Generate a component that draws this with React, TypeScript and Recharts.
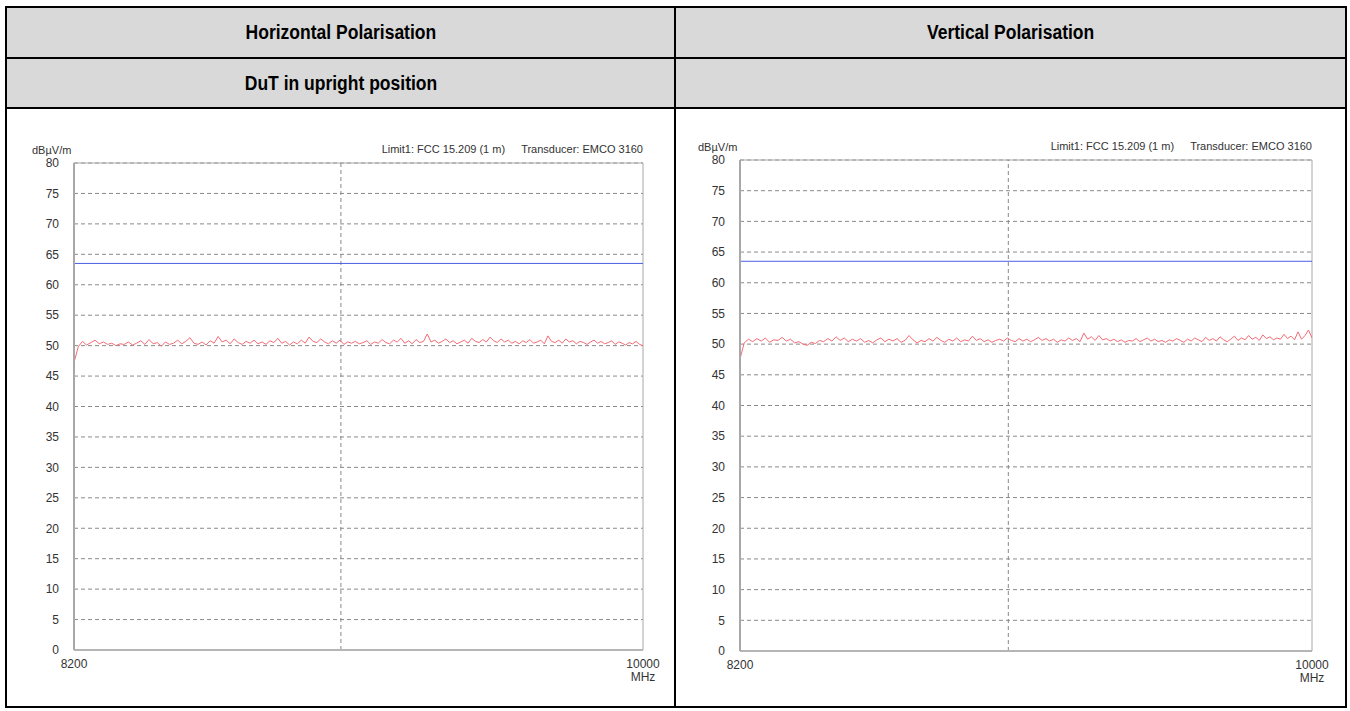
import React from 'react';
import {
  LineChart,
  Line,
  XAxis,
  YAxis,
  CartesianGrid,
  ReferenceLine,
  ReferenceArea,
} from 'recharts';

const FONT = '"Liberation Sans", Arial, sans-serif';

// sweep settings
const startMHz = 8200;
const stopMHz = 10000;
const centerMHz = 9000;
const xTicks = [8200, 10000];
const yTicks = [0, 5, 10, 15, 20, 25, 30, 35, 40, 45, 50, 55, 60, 65, 70, 75, 80];
const limitLevel = 63.5;

const columnTitles = ['Horizontal Polarisation', 'Vertical Polarisation'];
const positionTitles = ['DuT in upright position', ''];
const limitText = 'Limit1: FCC 15.209 (1 m)';
const transducerText = 'Transducer: EMCO 3160';

// dBµV/m readings, horizontal polarisation
const horizontalLevels = [
  47.2, 49.8, 50.7, 50.1, 50.5, 50.9, 50.3, 50.6, 50.2, 50.4,
  50.0, 50.3, 50.2, 50.6, 50.1, 50.4, 50.8, 50.2, 51.0, 50.3,
  50.5, 49.9, 50.6, 50.2, 50.4, 50.9, 50.3, 50.7, 51.3, 50.4,
  50.2, 50.6, 50.1, 50.8, 50.4, 51.5, 50.6, 50.9, 50.3, 51.1,
  50.5, 50.2, 50.7, 50.4, 50.9, 50.3, 50.6, 50.2, 50.8, 50.5,
  51.2, 50.4, 50.7, 50.1, 50.6, 50.3, 50.9, 50.4, 51.4, 50.7,
  50.5, 51.1, 50.6, 50.3, 50.8, 50.4, 50.9, 50.2, 50.6, 50.4,
  50.7, 50.3, 50.5, 50.8, 50.2, 50.6, 50.4, 51.0, 50.5, 50.3,
  50.9, 50.6, 51.2, 50.4, 50.8, 50.3, 51.0, 50.5, 50.7, 51.9,
  50.6, 50.9, 50.4, 50.7, 51.1, 50.5, 50.8, 50.3, 50.6, 50.9,
  50.4, 51.2, 50.7, 50.5, 51.0, 50.6, 51.4, 50.8, 50.5, 51.1,
  50.6, 50.9, 50.4, 50.7, 50.3, 50.8, 50.5, 51.0, 50.4, 50.6,
  50.9, 50.3, 51.6, 50.7, 50.5, 50.9, 50.4, 51.1, 50.6, 50.8,
  50.3, 50.7, 50.5, 50.2, 50.6, 50.9, 50.4, 50.7, 50.3, 50.5,
  50.8, 50.2, 50.6, 50.4, 50.1, 50.5, 50.3, 50.7, 50.2, 50.0,
];

// dBµV/m readings, vertical polarisation
const verticalLevels = [
  47.6, 50.2, 50.8, 50.4, 50.9, 50.5, 51.0, 50.3, 50.7, 50.6,
  51.1, 50.5, 50.8, 50.2, 50.4, 50.0, 49.8, 50.3, 50.1, 50.6,
  50.4, 50.9, 50.5, 51.2, 50.6, 51.0, 50.4, 50.8, 50.5, 50.9,
  50.3, 50.6, 50.2, 50.7, 51.0, 50.4, 50.8, 50.5, 50.9, 50.3,
  50.6, 51.4, 50.7, 50.2, 50.6, 50.4, 50.9, 50.5, 51.1, 50.6,
  50.3, 50.8, 50.5, 51.0, 50.4, 50.7, 50.5, 51.3, 50.6, 50.9,
  50.4, 50.7, 50.3, 50.6, 50.8, 50.5, 51.0, 50.6, 50.4, 50.9,
  50.5, 50.8, 50.4, 50.7, 51.1, 50.6, 50.9, 50.5, 50.8, 50.3,
  50.7, 50.5, 51.0, 50.6, 50.9, 50.4, 51.8, 50.8, 51.2, 50.6,
  51.4, 50.7, 50.9, 50.5, 50.8, 50.4, 50.7, 50.3, 50.6, 50.5,
  50.9, 50.4, 50.7, 51.0, 50.5, 50.8, 50.4, 50.6, 50.3, 50.7,
  50.5, 50.9, 50.6, 50.3, 50.8, 50.5, 51.0, 50.7, 50.4, 51.1,
  50.6, 50.9, 50.5, 51.2, 50.7, 50.4, 50.8, 51.3, 50.6, 51.0,
  50.7, 51.4, 50.8, 51.1, 50.6, 51.5, 50.9, 51.2, 50.7, 51.0,
  50.8, 51.6, 50.9, 51.3, 50.7, 52.0, 50.8, 51.4, 52.3, 51.0,
];

// sweep points are evenly spaced between start and stop
function toSweep(levels: number[]) {
  const step = (stopMHz - startMHz) / (levels.length - 1);
  return levels.map((level, i) => ({ freq: startMHz + i * step, level }));
}

function FreqTick({ x, y, payload }: any) {
  return (
    <g>
      <text x={x} y={y + 18} textAnchor="middle" fontSize={12} fill="#333" fontFamily={FONT}>
        {payload.value}
      </text>
      {payload.value === stopMHz && (
        <text x={x} y={y + 31} textAnchor="middle" fontSize={12} fill="#333" fontFamily={FONT}>
          MHz
        </text>
      )}
    </g>
  );
}

interface ScanChartProps {
  levels: number[];
  left: number;
  top: number;
  width: number;
  height: number;
}

function ScanChart({ levels, left, top, width, height }: ScanChartProps) {
  const data = toSweep(levels);
  return (
    <div style={{ position: 'absolute', left, top, width, height }}>
      <div
        style={{
          position: 'absolute',
          left: 12,
          top: 4,
          fontSize: 11,
          lineHeight: '13px',
          color: '#333',
          fontFamily: FONT,
        }}
      >
        dBµV/m
      </div>
      <div
        style={{
          position: 'absolute',
          right: 27,
          top: 3,
          fontSize: 11,
          lineHeight: '13px',
          color: '#333',
          fontFamily: FONT,
          whiteSpace: 'nowrap',
        }}
      >
        {limitText}
        <span style={{ marginLeft: 16 }}>{transducerText}</span>
      </div>
      <LineChart
        width={width}
        height={height}
        data={data}
        margin={{ top: 23, right: 27, left: 14, bottom: 0 }}
      >
        <CartesianGrid vertical={false} stroke="#8a8a8a" strokeDasharray="4 3" />
        <XAxis
          dataKey="freq"
          type="number"
          scale="log"
          domain={[startMHz, stopMHz]}
          ticks={xTicks}
          allowDataOverflow
          height={40}
          tickSize={0}
          tickMargin={0}
          tick={<FreqTick />}
          axisLine={{ stroke: '#b5b5b5', strokeWidth: 2 }}
        />
        <YAxis
          domain={[0, 80]}
          ticks={yTicks}
          width={40}
          tickSize={0}
          tickMargin={15}
          tickLine={false}
          interval={0}
          tick={{ fontSize: 12, fill: '#333', fontFamily: FONT }}
          axisLine={{ stroke: '#a8a8a8', strokeWidth: 2 }}
        />
        <ReferenceArea
          x1={startMHz}
          x2={stopMHz}
          y1={0}
          y2={80}
          fill="none"
          stroke="#a8a8a8"
          strokeWidth={1}
        />
        <ReferenceLine x={centerMHz} stroke="#8a8a8a" strokeDasharray="4 3" />
        <ReferenceLine y={limitLevel} stroke="#4a5fe6" strokeWidth={1} />
        <Line
          type="linear"
          dataKey="level"
          stroke="#f36b75"
          strokeWidth={1}
          dot={false}
          isAnimationActive={false}
        />
      </LineChart>
    </div>
  );
}

const headerCell: React.CSSProperties = {
  position: 'absolute',
  background: '#d9d9d9',
  display: 'flex',
  alignItems: 'center',
  justifyContent: 'center',
  fontFamily: FONT,
  fontWeight: 'bold',
  fontSize: 20,
  color: '#000',
};

const titleText: React.CSSProperties = {
  display: 'inline-block',
  transform: 'scaleX(0.875)',
  whiteSpace: 'nowrap',
};

export default function App() {
  return (
    <div
      style={{
        position: 'absolute',
        left: 0,
        top: 0,
        width: 1350,
        height: 711,
        background: '#fff',
        overflow: 'hidden',
      }}
    >
      {/* header rows */}
      <div style={{ ...headerCell, left: 7, top: 8, width: 667, height: 49 }}>
        <span style={titleText}>{columnTitles[0]}</span>
      </div>
      <div style={{ ...headerCell, left: 676, top: 8, width: 669, height: 49 }}>
        <span style={titleText}>{columnTitles[1]}</span>
      </div>
      <div style={{ ...headerCell, left: 7, top: 59, width: 667, height: 48 }}>
        <span style={titleText}>{positionTitles[0]}</span>
      </div>
      <div style={{ ...headerCell, left: 676, top: 59, width: 669, height: 48 }}>
        <span style={titleText}>{positionTitles[1]}</span>
      </div>

      {/* table rules */}
      <div style={{ position: 'absolute', left: 5, top: 6, width: 1342, height: 702, border: '2px solid #000', boxSizing: 'border-box' }} />
      <div style={{ position: 'absolute', left: 5, top: 57, width: 1342, height: 2, background: '#000' }} />
      <div style={{ position: 'absolute', left: 5, top: 107, width: 1342, height: 2, background: '#000' }} />
      <div style={{ position: 'absolute', left: 674, top: 6, width: 2, height: 702, background: '#000' }} />

      <ScanChart levels={horizontalLevels} left={20} top={140} width={650} height={550} />
      <ScanChart levels={verticalLevels} left={686} top={137} width={653} height={554} />
    </div>
  );
}
